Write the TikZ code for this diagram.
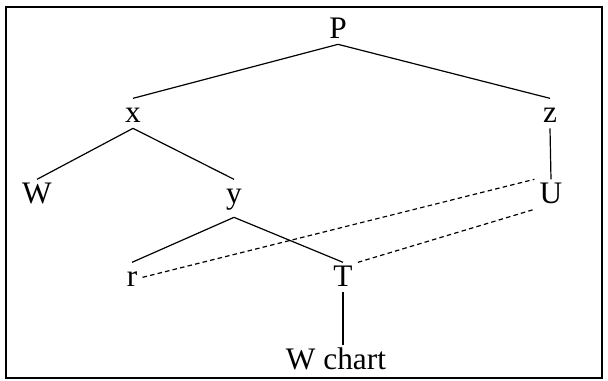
\documentclass[tikz,border=0pt]{standalone}
\usepackage{fontspec}
\setmainfont{Liberation Serif}
\usetikzlibrary{positioning}

\begin{document}
\begin{tikzpicture}[
        x=0.75pt, y=-0.75pt,
        word/.style={
            anchor=base, inner sep=0pt, outer sep=4pt,
            text height=14.5pt, text depth=0pt,
            font=\fontsize{23.5}{28}\selectfont
        },
        branch/.style={draw, line width=0.9pt},
        link/.style={draw, line width=0.9pt, dash pattern=on 3.4pt off 2.4pt}
    ]

    % Frame
    \useasboundingbox (0,0) rectangle (608,381);
    \draw[line width=1.3pt] (6,7) rectangle (602,378);

    % Root
    \node[word] (P) at (338, 39) {P};

    % Second row
    \node[word] (x) at (133, 123) {x};
    \node[word] (z) at (550, 123) {z};

    % Third row
    \node[word] (W) at (37, 204) {W};
    \node[word, text depth=6pt] (y) at (234, 204) {y};
    \node[word] (U) at (551, 204) {U};

    % Fourth row
    \node[word] (r) at (132, 287) {r};
    \node[word] (T) at (343, 287) {T};

    % Leaf
    \node[word] (chart) at (336, 370) {W chart};

    % Branches
    \draw[branch] (P.south) -- (x.north);
    \draw[branch] (P.south) -- (z.north);
    \draw[branch] (x.south) -- (W.north);
    \draw[branch] (x.south) -- (y.north);
    \draw[branch] (z.south) -- (U.north);
    \draw[branch] (y.south) -- (r.north);
    \draw[branch] (y.south) -- (T.north);
    \draw[branch] (T.south) -- (chart.north -| T.south);

    % Dashed links
    \draw[link] (r.east) -- (U.north west);
    \draw[link] (T.north east) -- (U.south west);

\end{tikzpicture}
\end{document}
